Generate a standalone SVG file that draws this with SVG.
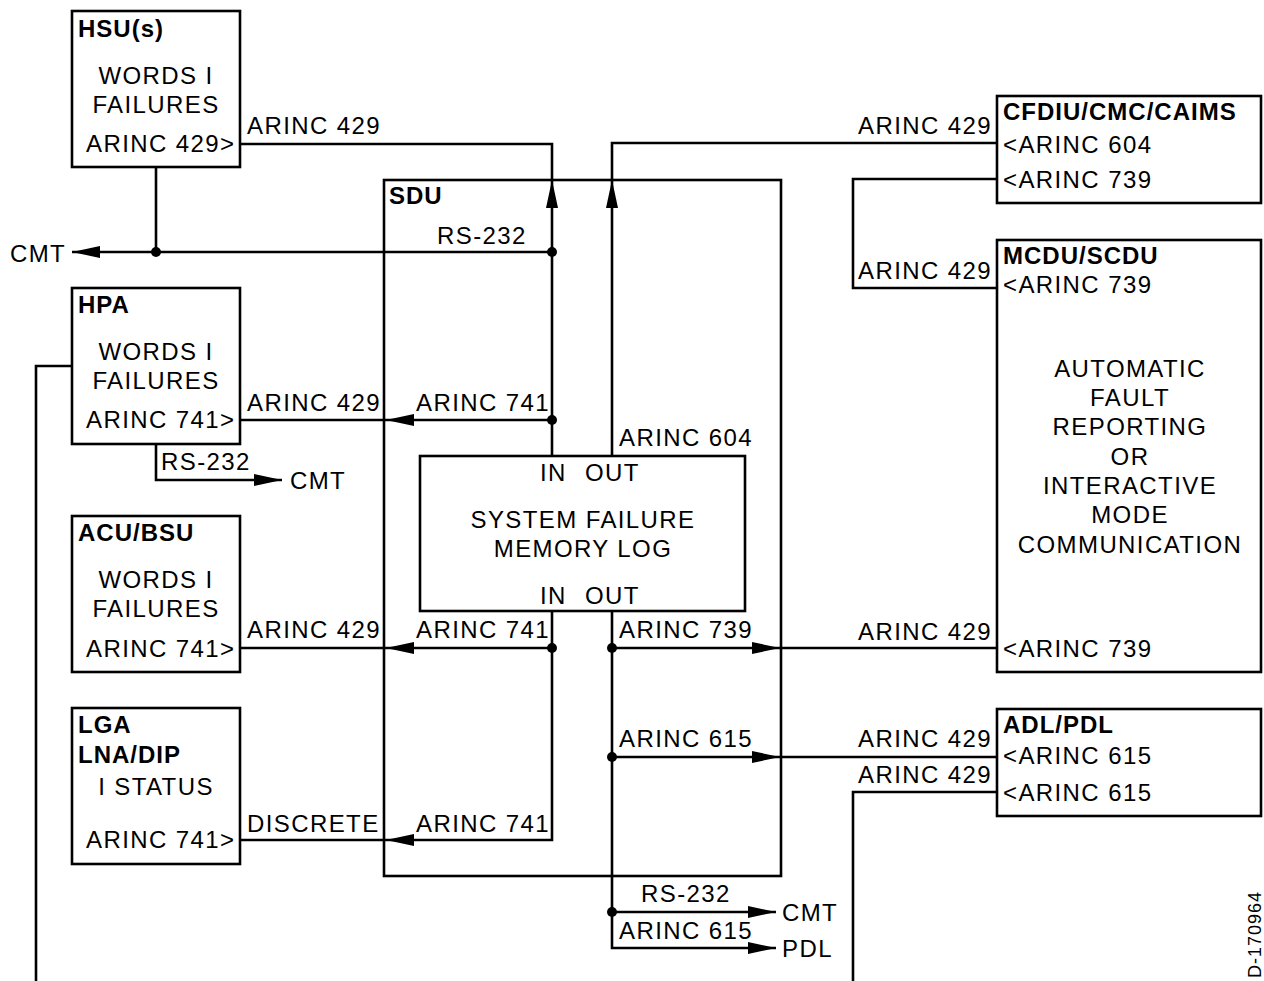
<svg xmlns="http://www.w3.org/2000/svg" width="1264" height="981" viewBox="0 0 1264 981">
<style>
text{font-family:"Liberation Sans",Arial,sans-serif;font-size:24px;letter-spacing:1.4px;fill:#000}
.b{font-weight:bold;letter-spacing:1px}
.m{text-anchor:middle}
.e{text-anchor:end}
.box{fill:#fff;stroke:#000;stroke-width:2.6}
.ln{fill:none;stroke:#000;stroke-width:2.6}
.ar{fill:none;stroke:#000;stroke-width:2.6;marker-end:url(#ah)}
.dot{fill:#000}
</style>
<defs>
<marker id="ah" markerUnits="userSpaceOnUse" markerWidth="28" markerHeight="12" viewBox="0 0 28 12" refX="28" refY="6" orient="auto">
<path d="M0,0 L28,6 L0,12 z" fill="#000"/>
</marker>
</defs>
<rect width="1264" height="981" fill="#fff"/>

<g id="sdu">
<rect class="box" x="384" y="180" width="397" height="696" fill="none" style="fill:none"/>
<text class="b" x="389" y="204">SDU</text>
</g>

<g id="connectors">
<path class="ln" d="M240,144 H552 V180"/>
<path class="ar" d="M552,456 V180"/>
<path class="ln" d="M997,143 H612 V180"/>
<path class="ar" d="M612,456 V180"/>
<path class="ln" d="M156,167 V252"/>
<path class="ar" d="M552,252 H72"/>
<path class="ar" d="M552,420 H386"/>
<path class="ln" d="M386,420 H240"/>
<path class="ln" d="M72,366 H36 V981"/>
<path class="ar" d="M156,444 V480 H282"/>
<path class="ln" d="M552,611 V648"/>
<path class="ar" d="M552,648 H386"/>
<path class="ln" d="M386,648 H240"/>
<path class="ar" d="M552,648 V840 H386"/>
<path class="ln" d="M386,840 H240"/>
<path class="ar" d="M612,611 V648 H780"/>
<path class="ln" d="M780,648 H997"/>
<path class="ar" d="M612,648 V757 H780"/>
<path class="ln" d="M780,757 H997"/>
<path class="ar" d="M612,757 V912 H776"/>
<path class="ar" d="M612,912 V948 H776"/>
<path class="ln" d="M997,179 H853 V288 H997"/>
<path class="ln" d="M997,792 H853 V981"/>
<circle class="dot" cx="156" cy="252" r="5"/>
<circle class="dot" cx="552" cy="252" r="5"/>
<circle class="dot" cx="552" cy="420" r="5"/>
<circle class="dot" cx="552" cy="648" r="5"/>
<circle class="dot" cx="612" cy="648" r="5"/>
<circle class="dot" cx="612" cy="757" r="5"/>
<circle class="dot" cx="612" cy="912" r="5"/>
<text x="247" y="134">ARINC 429</text>
<text x="10" y="262">CMT</text>
<text x="437" y="244">RS-232</text>
<text x="247" y="411">ARINC 429</text>
<text x="416" y="411">ARINC 741</text>
<text x="161" y="470">RS-232</text>
<text x="290" y="489">CMT</text>
<text x="619" y="446">ARINC 604</text>
<text x="247" y="638">ARINC 429</text>
<text x="416" y="638">ARINC 741</text>
<text x="619" y="638">ARINC 739</text>
<text x="619" y="747">ARINC 615</text>
<text x="247" y="832">DISCRETE</text>
<text x="416" y="832">ARINC 741</text>
<text x="641" y="902">RS-232</text>
<text x="619" y="939">ARINC 615</text>
<text x="782" y="921">CMT</text>
<text x="782" y="957">PDL</text>
<text class="e" x="992" y="134">ARINC 429</text>
<text class="e" x="992" y="279">ARINC 429</text>
<text class="e" x="992" y="640">ARINC 429</text>
<text class="e" x="992" y="747">ARINC 429</text>
<text class="e" x="992" y="783">ARINC 429</text>
</g>

<g id="hsu">
<rect class="box" x="72" y="11" width="168" height="156"/>
<text class="b" x="78" y="37">HSU(s)</text>
<text class="m" x="156" y="84">WORDS I</text>
<text class="m" x="156" y="113">FAILURES</text>
<text x="86" y="152">ARINC 429&gt;</text>
</g>

<g id="hpa">
<rect class="box" x="72" y="288" width="168" height="156"/>
<text class="b" x="78" y="313">HPA</text>
<text class="m" x="156" y="360">WORDS I</text>
<text class="m" x="156" y="389">FAILURES</text>
<text x="86" y="428">ARINC 741&gt;</text>
</g>

<g id="acu">
<rect class="box" x="72" y="516" width="168" height="156"/>
<text class="b" x="78" y="541">ACU/BSU</text>
<text class="m" x="156" y="588">WORDS I</text>
<text class="m" x="156" y="617">FAILURES</text>
<text x="86" y="657">ARINC 741&gt;</text>
</g>

<g id="lga">
<rect class="box" x="72" y="708" width="168" height="156"/>
<text class="b" x="78" y="733">LGA</text>
<text class="b" x="78" y="763">LNA/DIP</text>
<text class="m" x="156" y="795">I STATUS</text>
<text x="86" y="848">ARINC 741&gt;</text>
</g>

<g id="memlog">
<rect class="box" x="420" y="456" width="325" height="155"/>
<text x="540" y="481">IN</text>
<text x="585" y="481">OUT</text>
<text class="m" x="583" y="528">SYSTEM FAILURE</text>
<text class="m" x="583" y="557">MEMORY LOG</text>
<text x="540" y="604">IN</text>
<text x="585" y="604">OUT</text>
</g>

<g id="cfdiu">
<rect class="box" x="997" y="96" width="264" height="107"/>
<text class="b" x="1003" y="120">CFDIU/CMC/CAIMS</text>
<text x="1003" y="153">&lt;ARINC 604</text>
<text x="1003" y="188">&lt;ARINC 739</text>
</g>

<g id="mcdu">
<rect class="box" x="997" y="240" width="264" height="432"/>
<text class="b" x="1003" y="264">MCDU/SCDU</text>
<text x="1003" y="293">&lt;ARINC 739</text>
<text class="m" x="1130" y="377">AUTOMATIC</text>
<text class="m" x="1130" y="406">FAULT</text>
<text class="m" x="1130" y="435">REPORTING</text>
<text class="m" x="1130" y="465">OR</text>
<text class="m" x="1130" y="494">INTERACTIVE</text>
<text class="m" x="1130" y="523">MODE</text>
<text class="m" x="1130" y="553">COMMUNICATION</text>
<text x="1003" y="657">&lt;ARINC 739</text>
</g>

<g id="adl">
<rect class="box" x="997" y="709" width="264" height="107"/>
<text class="b" x="1003" y="733">ADL/PDL</text>
<text x="1003" y="764">&lt;ARINC 615</text>
<text x="1003" y="801">&lt;ARINC 615</text>
</g>

<text x="0" y="0" transform="translate(1261,978) rotate(-90)" style="font-size:18px;letter-spacing:1px">D-170964</text>
</svg>
